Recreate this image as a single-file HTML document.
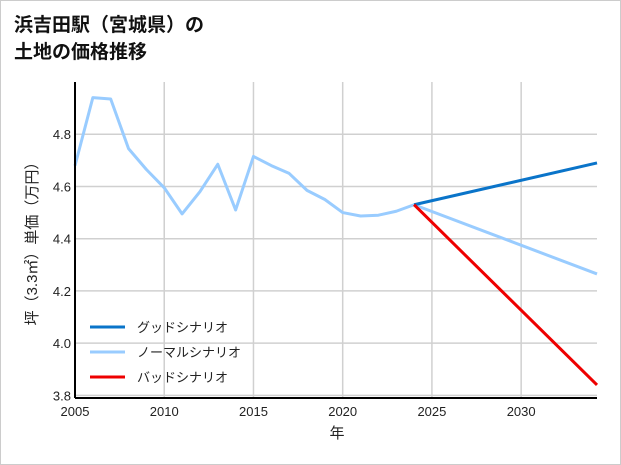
<!DOCTYPE html>
<html><head><meta charset="utf-8"><style>
body{margin:0;background:#fff}
#wrap{position:relative;width:619px;height:463px;border:1px solid #ccc;font-family:"Liberation Sans","Noto Sans CJK JP",sans-serif}
svg text{font-family:"Liberation Sans","Noto Sans CJK JP",sans-serif}
</style></head><body>
<div id="wrap">
<svg id="chart" width="621" height="465" style="position:absolute;left:-1px;top:-1px">
<text x="14" y="31" font-size="19" font-weight="bold" fill="#111">浜吉田駅（宮城県）の</text>
<text x="14" y="58" font-size="19" font-weight="bold" fill="#111">土地の価格推移</text>
<g id="grid"></g><g id="series"></g><g id="axes"></g><g id="legend"></g>
<text x="337" y="438" font-size="15" text-anchor="middle" fill="#222">年</text>
<text transform="translate(37,240) rotate(-90)" font-size="15" text-anchor="middle" fill="#222">坪（3.3㎡）単価（万円）</text>
</svg></div>
<script>
const histYears=[2005,2006,2007,2008,2009,2010,2011,2012,2013,2014,2015,2016,2017,2018,2019,2020,2021,2022,2023,2024];
const histValues=[4.68,4.94,4.935,4.745,4.665,4.595,4.495,4.58,4.685,4.51,4.715,4.68,4.65,4.585,4.55,4.5,4.487,4.49,4.505,4.53];
const scenYears=[2024,2034.25];
const goodValues=[4.53,4.69];
const normalValues=[4.53,4.265];
const badValues=[4.53,3.84];
const xTicks=[2005,2010,2015,2020,2025,2030];
const yTicks=[3.8,4.0,4.2,4.4,4.6,4.8];
const legendLabels=["グッドシナリオ","ノーマルシナリオ","バッドシナリオ"];
const legendColors=["#0a74c9","#99ccff","#ee0000"];
const L=75,R=597,T=82,B=398,x0=2005,x1=2034.25,y0=3.79,y1=5.0;
const X=v=>L+(v-x0)/(x1-x0)*(R-L);
const Y=v=>B-(v-y0)/(y1-y0)*(B-T);
const NS="http://www.w3.org/2000/svg";
function mk(tag,at,parent){const e=document.createElementNS(NS,tag);for(const k in at)e.setAttribute(k,at[k]);document.getElementById(parent).appendChild(e);return e;}
xTicks.forEach(t=>{
 const g=mk('line',{x1:X(t),x2:X(t),y1:T,y2:B,stroke:'#d0d0d0','stroke-width':1.5},'grid');
 
 
 const tx=mk('text',{x:X(t),y:B+18,'font-size':13,'text-anchor':'middle',fill:'#222'},'axes');tx.textContent=t;
 
 
});
yTicks.forEach(t=>{
 const g=mk('line',{x1:L,x2:R,y1:Y(t),y2:Y(t),stroke:'#d0d0d0','stroke-width':1.5},'grid');
 
 
 const tx=mk('text',{x:L-4,y:Y(t)+5,'font-size':13,'text-anchor':'end',fill:'#222'},'axes');tx.textContent=t.toFixed(1);
 
 
});
const ax=mk('line',{x1:L,x2:L,y1:T,y2:B,stroke:'#000','stroke-width':2},'axes');


const bx=mk('line',{x1:L,x2:R,y1:B,y2:B,stroke:'#000','stroke-width':2},'axes');


function line(xs,ys,color,name){
 const p=mk('polyline',{points:xs.map((x,i)=>X(x)+','+Y(ys[i])).join(' '),fill:'none',stroke:color,'stroke-width':3,'stroke-linejoin':'round'},'series');
 
 
}
line(histYears,histValues,'#99ccff','historical-line');
line(scenYears,normalValues,'#99ccff','normal-scenario-line');
line(scenYears,goodValues,'#0a74c9','good-scenario-line');
line(scenYears,badValues,'#ee0000','bad-scenario-line');
legendLabels.forEach((lab,i)=>{
 const y=327+i*25;
 const l=mk('line',{x1:90,x2:125,y1:y,y2:y,stroke:legendColors[i],'stroke-width':3},'legend');
 
 
 const t=mk('text',{x:137,y:y+5,'font-size':13,fill:'#222'},'legend');t.textContent=lab;
 
 
});
</script>
</body></html>
